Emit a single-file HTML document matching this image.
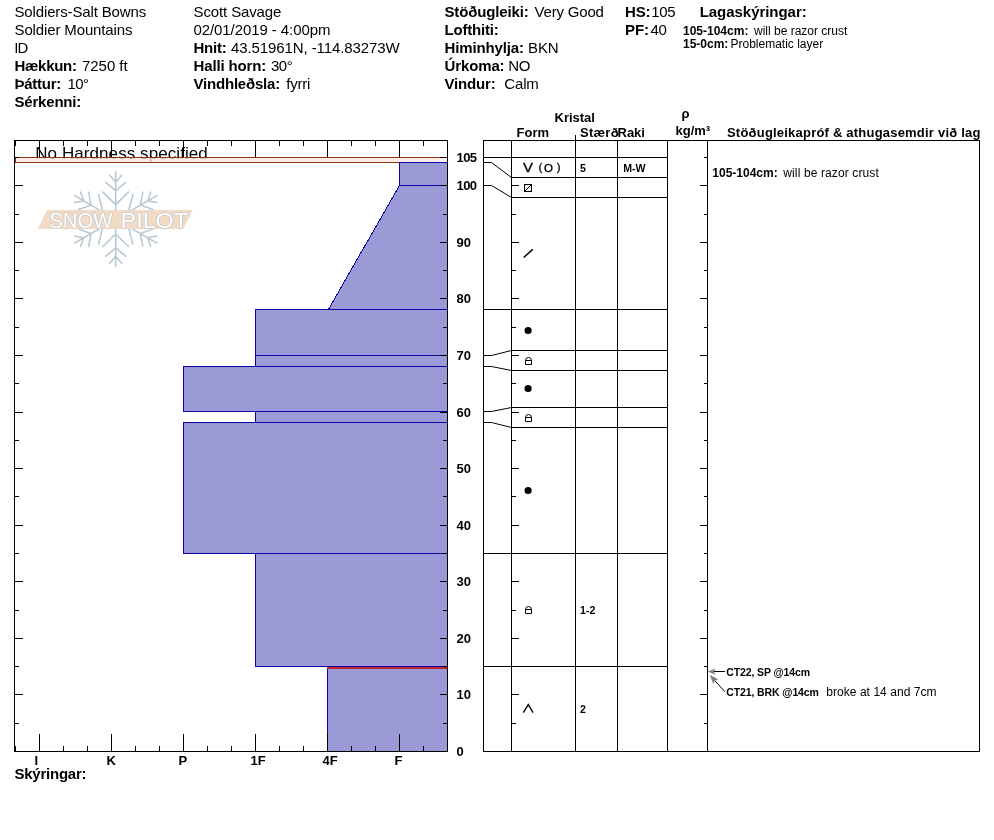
<!DOCTYPE html>
<html lang="is"><head><meta charset="utf-8"><title>Snow Pilot</title>
<style>
html,body{margin:0;padding:0;background:#fff;}
body{width:994px;height:840px;overflow:hidden;}
svg{display:block;}
text{font-family:"Liberation Sans",sans-serif;fill:#000;}
.b{font-weight:bold;}
.ln{stroke:#000;stroke-width:1;fill:none;shape-rendering:crispEdges;}
.aa{stroke:#000;stroke-width:1;fill:none;}
.bar{fill:#9b99d6;stroke:#0a06a4;stroke-width:1;shape-rendering:crispEdges;}
</style></head><body>
<svg width="994" height="840" viewBox="0 0 994 840">
<text x="14.5" y="16.5" font-size="15" textLength="131.7" lengthAdjust="spacing">Soldiers-Salt Bowns</text>
<text x="14.5" y="34.5" font-size="15" textLength="118" lengthAdjust="spacing">Soldier Mountains</text>
<text x="14.2" y="52.5" font-size="15" textLength="14.2" lengthAdjust="spacing">ID</text>
<text x="14.5" y="70.5" font-size="15" class="b" textLength="62.5" lengthAdjust="spacing">Hækkun:</text>
<text x="82" y="70.5" font-size="15" textLength="45.6" lengthAdjust="spacing">7250 ft</text>
<text x="14.5" y="88.5" font-size="15" class="b" textLength="46.8" lengthAdjust="spacing">Þáttur:</text>
<text x="67.5" y="88.5" font-size="15" textLength="21.6" lengthAdjust="spacing">10°</text>
<text x="14.5" y="106.5" font-size="15" class="b" textLength="66.8" lengthAdjust="spacing">Sérkenni:</text>
<text x="193.5" y="16.5" font-size="15" textLength="87.9" lengthAdjust="spacing">Scott Savage</text>
<text x="193.5" y="34.5" font-size="15" textLength="136.9" lengthAdjust="spacing">02/01/2019 - 4:00pm</text>
<text x="193.5" y="52.5" font-size="15" class="b" textLength="33.3" lengthAdjust="spacing">Hnit:</text>
<text x="231" y="52.5" font-size="15" textLength="168.6" lengthAdjust="spacing">43.51961N, -114.83273W</text>
<text x="193.5" y="70.5" font-size="15" class="b" textLength="72.7" lengthAdjust="spacing">Halli horn:</text>
<text x="270.9" y="70.5" font-size="15" textLength="21.8" lengthAdjust="spacing">30°</text>
<text x="193.5" y="88.5" font-size="15" class="b" textLength="86.7" lengthAdjust="spacing">Vindhleðsla:</text>
<text x="286.2" y="88.5" font-size="15" textLength="24.2" lengthAdjust="spacing">fyrri</text>
<text x="444.5" y="16.5" font-size="15" class="b" textLength="84.2" lengthAdjust="spacing">Stöðugleiki:</text>
<text x="534.6" y="16.5" font-size="15" textLength="69.3" lengthAdjust="spacing">Very Good</text>
<text x="444.5" y="34.5" font-size="15" class="b" textLength="54.3" lengthAdjust="spacing">Lofthiti:</text>
<text x="444.5" y="52.5" font-size="15" class="b" textLength="79.4" lengthAdjust="spacing">Himinhylja:</text>
<text x="528.1" y="52.5" font-size="15" textLength="30.5" lengthAdjust="spacing">BKN</text>
<text x="444.5" y="70.5" font-size="15" class="b" textLength="60.1" lengthAdjust="spacing">Úrkoma:</text>
<text x="508.3" y="70.5" font-size="15" textLength="22.2" lengthAdjust="spacing">NO</text>
<text x="444.5" y="88.5" font-size="15" class="b" textLength="51.2" lengthAdjust="spacing">Vindur:</text>
<text x="504.3" y="88.5" font-size="15" textLength="34.5" lengthAdjust="spacing">Calm</text>
<text x="625.1" y="16.5" font-size="15" class="b" textLength="25.4" lengthAdjust="spacing">HS:</text>
<text x="651.3" y="16.5" font-size="15" textLength="24.4" lengthAdjust="spacing">105</text>
<text x="625.1" y="34.5" font-size="15" class="b" textLength="23.9" lengthAdjust="spacing">PF:</text>
<text x="650.6" y="34.5" font-size="15" textLength="16.2" lengthAdjust="spacing">40</text>
<text x="699.7" y="16.5" font-size="15" class="b" textLength="107" lengthAdjust="spacing">Lagaskýringar:</text>
<text x="683" y="34.8" font-size="12" class="b">105-104cm:</text>
<text x="754" y="34.8" font-size="12">will be razor crust</text>
<text x="683" y="47.6" font-size="12" class="b">15-0cm:</text>
<text x="730.5" y="47.6" font-size="12">Problematic layer</text>
<g id="logo">
<g stroke="#b9c7d0" stroke-width="1.55" fill="none" stroke-linecap="round">
<g transform="translate(115.7 219.3) rotate(0)"><path d="M0 -6 V-47.5 M-6 -44 L0 -37 L6 -44 M-10 -37 L0 -28.5 L10 -37 M-12.8 -27.2 L0 -14.7 L12.8 -27.2"/></g>
<g transform="translate(115.7 219.3) rotate(60)"><path d="M0 -6 V-47.5 M-6 -44 L0 -37 L6 -44 M-10 -37 L0 -28.5 L10 -37 M-12.8 -27.2 L0 -14.7 L12.8 -27.2"/></g>
<g transform="translate(115.7 219.3) rotate(120)"><path d="M0 -6 V-47.5 M-6 -44 L0 -37 L6 -44 M-10 -37 L0 -28.5 L10 -37 M-12.8 -27.2 L0 -14.7 L12.8 -27.2"/></g>
<g transform="translate(115.7 219.3) rotate(180)"><path d="M0 -6 V-47.5 M-6 -44 L0 -37 L6 -44 M-10 -37 L0 -28.5 L10 -37 M-12.8 -27.2 L0 -14.7 L12.8 -27.2"/></g>
<g transform="translate(115.7 219.3) rotate(240)"><path d="M0 -6 V-47.5 M-6 -44 L0 -37 L6 -44 M-10 -37 L0 -28.5 L10 -37 M-12.8 -27.2 L0 -14.7 L12.8 -27.2"/></g>
<g transform="translate(115.7 219.3) rotate(300)"><path d="M0 -6 V-47.5 M-6 -44 L0 -37 L6 -44 M-10 -37 L0 -28.5 L10 -37 M-12.8 -27.2 L0 -14.7 L12.8 -27.2"/></g>
</g>
<polygon points="47.1,210 192.8,210 183,229 37.7,229" fill="#f1dac6"/>
<text x="49.2" y="227.6" font-size="22" textLength="63.2" lengthAdjust="spacingAndGlyphs" style="fill:#fff;stroke:#b7c2ca;stroke-width:1.1;paint-order:stroke;">SNOW</text>
<text x="120.6" y="227.6" font-size="22" textLength="67.4" lengthAdjust="spacingAndGlyphs" style="fill:#fff;stroke:#b7c2ca;stroke-width:1.1;paint-order:stroke;">PILOT</text>
</g>
<text x="35.2" y="158.8" font-size="17" textLength="172.6" lengthAdjust="spacing">No Hardness specified</text>
<rect x="15.5" y="157.5" width="432" height="5" fill="rgba(255,232,228,0.75)" stroke="#94300c" stroke-width="1" shape-rendering="crispEdges"/>
<rect class="bar" x="399.5" y="162.5" width="48" height="23"/>
<polygon points="399.5,185.5 447.5,185.5 447.5,309.5 328.4,309.5" fill="#9b99d6" stroke="#0a06a4" stroke-width="1" shape-rendering="crispEdges"/>
<rect class="bar" x="255.5" y="309.5" width="192" height="46"/>
<rect class="bar" x="255.5" y="355.5" width="192" height="11"/>
<rect class="bar" x="183.5" y="366.5" width="264" height="45"/>
<rect class="bar" x="255.5" y="411.5" width="192" height="11"/>
<rect class="bar" x="183.5" y="422.5" width="264" height="131"/>
<rect class="bar" x="255.5" y="553.5" width="192" height="113"/>
<rect class="bar" x="327.5" y="666.5" width="120" height="85"/>
<rect x="327" y="667" width="120" height="2" fill="#c2222a" shape-rendering="crispEdges"/>
<line class="ln" x1="255" y1="666.5" x2="448" y2="666.5" style="stroke:#0a06a4"/>
<rect class="ln" x="14.5" y="140.5" width="433" height="611"/>
<line class="ln" x1="15.5" y1="140" x2="15.5" y2="146"/>
<line class="ln" x1="15.5" y1="746" x2="15.5" y2="752"/>
<line class="ln" x1="39.5" y1="140" x2="39.5" y2="157"/>
<line class="ln" x1="39.5" y1="734" x2="39.5" y2="752"/>
<line class="ln" x1="63.5" y1="140" x2="63.5" y2="146"/>
<line class="ln" x1="63.5" y1="746" x2="63.5" y2="752"/>
<line class="ln" x1="87.5" y1="140" x2="87.5" y2="146"/>
<line class="ln" x1="87.5" y1="746" x2="87.5" y2="752"/>
<line class="ln" x1="111.5" y1="140" x2="111.5" y2="157"/>
<line class="ln" x1="111.5" y1="734" x2="111.5" y2="752"/>
<line class="ln" x1="135.5" y1="140" x2="135.5" y2="146"/>
<line class="ln" x1="135.5" y1="746" x2="135.5" y2="752"/>
<line class="ln" x1="159.5" y1="140" x2="159.5" y2="146"/>
<line class="ln" x1="159.5" y1="746" x2="159.5" y2="752"/>
<line class="ln" x1="183.5" y1="140" x2="183.5" y2="157"/>
<line class="ln" x1="183.5" y1="734" x2="183.5" y2="752"/>
<line class="ln" x1="207.5" y1="140" x2="207.5" y2="146"/>
<line class="ln" x1="207.5" y1="746" x2="207.5" y2="752"/>
<line class="ln" x1="231.5" y1="140" x2="231.5" y2="146"/>
<line class="ln" x1="231.5" y1="746" x2="231.5" y2="752"/>
<line class="ln" x1="255.5" y1="140" x2="255.5" y2="157"/>
<line class="ln" x1="255.5" y1="734" x2="255.5" y2="752"/>
<line class="ln" x1="279.5" y1="140" x2="279.5" y2="146"/>
<line class="ln" x1="279.5" y1="746" x2="279.5" y2="752"/>
<line class="ln" x1="303.5" y1="140" x2="303.5" y2="146"/>
<line class="ln" x1="303.5" y1="746" x2="303.5" y2="752"/>
<line class="ln" x1="327.5" y1="140" x2="327.5" y2="157"/>
<line class="ln" x1="327.5" y1="734" x2="327.5" y2="752"/>
<line class="ln" x1="351.5" y1="140" x2="351.5" y2="146"/>
<line class="ln" x1="351.5" y1="746" x2="351.5" y2="752"/>
<line class="ln" x1="375.5" y1="140" x2="375.5" y2="146"/>
<line class="ln" x1="375.5" y1="746" x2="375.5" y2="752"/>
<line class="ln" x1="399.5" y1="140" x2="399.5" y2="157"/>
<line class="ln" x1="399.5" y1="734" x2="399.5" y2="752"/>
<line class="ln" x1="423.5" y1="140" x2="423.5" y2="146"/>
<line class="ln" x1="423.5" y1="746" x2="423.5" y2="752"/>
<line class="ln" x1="14" y1="751.5" x2="23" y2="751.5"/>
<line class="ln" x1="440" y1="751.5" x2="448" y2="751.5"/>
<line class="ln" x1="14" y1="723.5" x2="19" y2="723.5"/>
<line class="ln" x1="443" y1="723.5" x2="448" y2="723.5"/>
<line class="ln" x1="14" y1="694.5" x2="23" y2="694.5"/>
<line class="ln" x1="440" y1="694.5" x2="448" y2="694.5"/>
<line class="ln" x1="14" y1="666.5" x2="19" y2="666.5"/>
<line class="ln" x1="443" y1="666.5" x2="448" y2="666.5"/>
<line class="ln" x1="14" y1="638.5" x2="23" y2="638.5"/>
<line class="ln" x1="440" y1="638.5" x2="448" y2="638.5"/>
<line class="ln" x1="14" y1="610.5" x2="19" y2="610.5"/>
<line class="ln" x1="443" y1="610.5" x2="448" y2="610.5"/>
<line class="ln" x1="14" y1="581.5" x2="23" y2="581.5"/>
<line class="ln" x1="440" y1="581.5" x2="448" y2="581.5"/>
<line class="ln" x1="14" y1="553.5" x2="19" y2="553.5"/>
<line class="ln" x1="443" y1="553.5" x2="448" y2="553.5"/>
<line class="ln" x1="14" y1="525.5" x2="23" y2="525.5"/>
<line class="ln" x1="440" y1="525.5" x2="448" y2="525.5"/>
<line class="ln" x1="14" y1="496.5" x2="19" y2="496.5"/>
<line class="ln" x1="443" y1="496.5" x2="448" y2="496.5"/>
<line class="ln" x1="14" y1="468.5" x2="23" y2="468.5"/>
<line class="ln" x1="440" y1="468.5" x2="448" y2="468.5"/>
<line class="ln" x1="14" y1="440.5" x2="19" y2="440.5"/>
<line class="ln" x1="443" y1="440.5" x2="448" y2="440.5"/>
<line class="ln" x1="14" y1="412.5" x2="23" y2="412.5"/>
<line class="ln" x1="440" y1="412.5" x2="448" y2="412.5"/>
<line class="ln" x1="14" y1="383.5" x2="19" y2="383.5"/>
<line class="ln" x1="443" y1="383.5" x2="448" y2="383.5"/>
<line class="ln" x1="14" y1="355.5" x2="23" y2="355.5"/>
<line class="ln" x1="440" y1="355.5" x2="448" y2="355.5"/>
<line class="ln" x1="14" y1="327.5" x2="19" y2="327.5"/>
<line class="ln" x1="443" y1="327.5" x2="448" y2="327.5"/>
<line class="ln" x1="14" y1="298.5" x2="23" y2="298.5"/>
<line class="ln" x1="440" y1="298.5" x2="448" y2="298.5"/>
<line class="ln" x1="14" y1="270.5" x2="19" y2="270.5"/>
<line class="ln" x1="443" y1="270.5" x2="448" y2="270.5"/>
<line class="ln" x1="14" y1="242.5" x2="23" y2="242.5"/>
<line class="ln" x1="440" y1="242.5" x2="448" y2="242.5"/>
<line class="ln" x1="14" y1="214.5" x2="19" y2="214.5"/>
<line class="ln" x1="443" y1="214.5" x2="448" y2="214.5"/>
<line class="ln" x1="14" y1="185.5" x2="23" y2="185.5"/>
<line class="ln" x1="440" y1="185.5" x2="448" y2="185.5"/>
<line class="ln" x1="14" y1="157.5" x2="19" y2="157.5"/>
<line class="ln" x1="443" y1="157.5" x2="448" y2="157.5"/>
<line class="ln" x1="440" y1="157.5" x2="448" y2="157.5"/>
<text x="456.5" y="161.7" font-size="13" class="b" textLength="20.6" lengthAdjust="spacing">105</text>
<text x="456.5" y="189.7" font-size="13" class="b" textLength="20.6" lengthAdjust="spacing">100</text>
<text x="456.5" y="246.7" font-size="13" class="b">90</text>
<text x="456.5" y="302.7" font-size="13" class="b">80</text>
<text x="456.5" y="359.7" font-size="13" class="b">70</text>
<text x="456.5" y="416.7" font-size="13" class="b">60</text>
<text x="456.5" y="472.7" font-size="13" class="b">50</text>
<text x="456.5" y="529.7" font-size="13" class="b">40</text>
<text x="456.5" y="585.7" font-size="13" class="b">30</text>
<text x="456.5" y="642.7" font-size="13" class="b">20</text>
<text x="456.5" y="698.7" font-size="13" class="b">10</text>
<text x="456.5" y="755.7" font-size="13" class="b">0</text>
<text x="34.5" y="765" font-size="13" class="b">I</text>
<text x="106.5" y="765" font-size="13" class="b">K</text>
<text x="178.5" y="765" font-size="13" class="b">P</text>
<text x="250.5" y="765" font-size="13" class="b">1F</text>
<text x="322.5" y="765" font-size="13" class="b">4F</text>
<text x="394.5" y="765" font-size="13" class="b">F</text>
<text x="14.5" y="779" font-size="15" class="b" textLength="72" lengthAdjust="spacing">Skýringar:</text>
<line class="ln" x1="483.5" y1="140" x2="483.5" y2="752"/>
<line class="ln" x1="511.5" y1="140" x2="511.5" y2="752"/>
<line class="ln" x1="617.5" y1="140" x2="617.5" y2="752"/>
<line class="ln" x1="667.5" y1="140" x2="667.5" y2="752"/>
<line class="ln" x1="707.5" y1="140" x2="707.5" y2="752"/>
<line class="ln" x1="979.5" y1="140" x2="979.5" y2="752"/>
<line class="ln" x1="575.5" y1="135" x2="575.5" y2="752"/>
<line class="ln" x1="483" y1="140.5" x2="980" y2="140.5"/>
<line class="ln" x1="483" y1="751.5" x2="980" y2="751.5"/>
<line class="ln" x1="483" y1="157.5" x2="668" y2="157.5"/>
<polyline class="aa" points="483.5,162.5 491.5,162.5 511.5,177.5"/>
<line class="ln" x1="511" y1="177.5" x2="668" y2="177.5"/>
<polyline class="aa" points="483.5,185.5 491.5,185.5 511.5,197.5"/>
<line class="ln" x1="511" y1="197.5" x2="668" y2="197.5"/>
<line class="ln" x1="483" y1="309.5" x2="668" y2="309.5"/>
<polyline class="aa" points="483.5,355.5 491.5,355.5 511.5,350.5"/>
<line class="ln" x1="511" y1="350.5" x2="668" y2="350.5"/>
<polyline class="aa" points="483.5,366.5 491.5,366.5 511.5,370.5"/>
<line class="ln" x1="511" y1="370.5" x2="668" y2="370.5"/>
<polyline class="aa" points="483.5,411.5 491.5,411.5 511.5,407.5"/>
<line class="ln" x1="511" y1="407.5" x2="668" y2="407.5"/>
<polyline class="aa" points="483.5,422.5 491.5,422.5 511.5,427.5"/>
<line class="ln" x1="511" y1="427.5" x2="668" y2="427.5"/>
<line class="ln" x1="483" y1="553.5" x2="668" y2="553.5"/>
<line class="ln" x1="483" y1="666.5" x2="668" y2="666.5"/>
<line class="ln" x1="511" y1="723.5" x2="516" y2="723.5"/>
<line class="ln" x1="704" y1="723.5" x2="708" y2="723.5"/>
<line class="ln" x1="511" y1="694.5" x2="519" y2="694.5"/>
<line class="ln" x1="700" y1="694.5" x2="708" y2="694.5"/>
<line class="ln" x1="511" y1="666.5" x2="516" y2="666.5"/>
<line class="ln" x1="704" y1="666.5" x2="708" y2="666.5"/>
<line class="ln" x1="511" y1="638.5" x2="519" y2="638.5"/>
<line class="ln" x1="700" y1="638.5" x2="708" y2="638.5"/>
<line class="ln" x1="511" y1="610.5" x2="516" y2="610.5"/>
<line class="ln" x1="704" y1="610.5" x2="708" y2="610.5"/>
<line class="ln" x1="511" y1="581.5" x2="519" y2="581.5"/>
<line class="ln" x1="700" y1="581.5" x2="708" y2="581.5"/>
<line class="ln" x1="511" y1="553.5" x2="516" y2="553.5"/>
<line class="ln" x1="704" y1="553.5" x2="708" y2="553.5"/>
<line class="ln" x1="511" y1="525.5" x2="519" y2="525.5"/>
<line class="ln" x1="700" y1="525.5" x2="708" y2="525.5"/>
<line class="ln" x1="511" y1="496.5" x2="516" y2="496.5"/>
<line class="ln" x1="704" y1="496.5" x2="708" y2="496.5"/>
<line class="ln" x1="511" y1="468.5" x2="519" y2="468.5"/>
<line class="ln" x1="700" y1="468.5" x2="708" y2="468.5"/>
<line class="ln" x1="511" y1="440.5" x2="516" y2="440.5"/>
<line class="ln" x1="704" y1="440.5" x2="708" y2="440.5"/>
<line class="ln" x1="511" y1="412.5" x2="519" y2="412.5"/>
<line class="ln" x1="700" y1="412.5" x2="708" y2="412.5"/>
<line class="ln" x1="511" y1="383.5" x2="516" y2="383.5"/>
<line class="ln" x1="704" y1="383.5" x2="708" y2="383.5"/>
<line class="ln" x1="511" y1="355.5" x2="519" y2="355.5"/>
<line class="ln" x1="700" y1="355.5" x2="708" y2="355.5"/>
<line class="ln" x1="511" y1="327.5" x2="516" y2="327.5"/>
<line class="ln" x1="704" y1="327.5" x2="708" y2="327.5"/>
<line class="ln" x1="511" y1="298.5" x2="519" y2="298.5"/>
<line class="ln" x1="700" y1="298.5" x2="708" y2="298.5"/>
<line class="ln" x1="511" y1="270.5" x2="516" y2="270.5"/>
<line class="ln" x1="704" y1="270.5" x2="708" y2="270.5"/>
<line class="ln" x1="511" y1="242.5" x2="519" y2="242.5"/>
<line class="ln" x1="700" y1="242.5" x2="708" y2="242.5"/>
<line class="ln" x1="511" y1="214.5" x2="516" y2="214.5"/>
<line class="ln" x1="704" y1="214.5" x2="708" y2="214.5"/>
<line class="ln" x1="511" y1="185.5" x2="519" y2="185.5"/>
<line class="ln" x1="700" y1="185.5" x2="708" y2="185.5"/>
<line class="ln" x1="511" y1="157.5" x2="516" y2="157.5"/>
<line class="ln" x1="704" y1="157.5" x2="708" y2="157.5"/>
<text x="554.5" y="121.7" font-size="13" class="b">Kristal</text>
<text x="516.5" y="136.7" font-size="13" class="b">Form</text>
<text x="580" y="136.7" font-size="13" class="b" textLength="38.6" lengthAdjust="spacing">Stærð</text>
<text x="617.5" y="136.7" font-size="13" class="b">Raki</text>
<text x="681.5" y="118.3" font-size="13" class="b">ρ</text>
<text x="675.5" y="134.6" font-size="13" class="b">kg/m³</text>
<text x="727" y="137" font-size="13" class="b" textLength="253.4" lengthAdjust="spacing">Stöðugleikapróf &amp; athugasemdir við lag</text>
<g class="aa" stroke-width="1">
</g>
<text x="523" y="172.3" font-size="13" textLength="10" lengthAdjust="spacingAndGlyphs" style="stroke:#000;stroke-width:0.3">V</text>
<text x="538.5" y="171.3" font-size="11.5" style="stroke:#000;stroke-width:0.3">(</text>
<text x="544.1" y="172" font-size="11.5" style="stroke:#000;stroke-width:0.3">O</text>
<text x="556.8" y="171.3" font-size="11.5" style="stroke:#000;stroke-width:0.3">)</text>
<rect class="ln" x="524.5" y="184.5" width="7" height="7"/><line class="aa" x1="524.5" y1="191.5" x2="531.5" y2="184.5"/>
<line class="aa" x1="523.7" y1="257.5" x2="532.7" y2="249.4" style="stroke-width:1.45"/>
<circle cx="528.1" cy="330.5" r="3.6" fill="#000"/>
<circle cx="528.1" cy="388.5" r="3.6" fill="#000"/>
<circle cx="528.1" cy="490.5" r="3.6" fill="#000"/>
<path class="aa" d="M525.5 364.5 V360.5 A3 3 0 0 1 531.5 360.5 V364.5 Z M525.5 360.5 H531.5"/>
<path class="aa" d="M525.5 421.5 V417.5 A3 3 0 0 1 531.5 417.5 V421.5 Z M525.5 417.5 H531.5"/>
<path class="aa" d="M525.5 613.5 V609.5 A3 3 0 0 1 531.5 609.5 V613.5 Z M525.5 609.5 H531.5"/>
<polyline class="aa" style="stroke-width:1.35" points="523.3,712.6 528.3,704.6 533,712.6"/>
<text x="580.0" y="171.7" font-size="10.6" class="b">5</text>
<text x="623.2" y="171.7" font-size="10.6" class="b">M-W</text>
<text x="580.0" y="613.7" font-size="10.6" class="b">1-2</text>
<text x="580.0" y="712.7" font-size="10.6" class="b">2</text>
<text x="712.3" y="176.6" font-size="12" class="b">105-104cm:</text>
<text x="783.3" y="176.6" font-size="12" textLength="95.5" lengthAdjust="spacing">will be razor crust</text>
<line class="aa" x1="725" y1="671.5" x2="713.8" y2="671.5"/>
<polygon points="708.2,671.5 715.2,668.7 713.6,671.5 715.2,674.4" fill="#808080" stroke="#808080" stroke-width="0.4"/>
<line class="aa" x1="724.8" y1="691.7" x2="714.6" y2="680.4"/>
<polygon points="710,675.2 717.8,679.3 714.6,680.4 713.3,683.6" fill="#808080" stroke="#808080" stroke-width="0.4"/>
<text x="726.3" y="675.8" font-size="10.5" class="b" textLength="83.7" lengthAdjust="spacing">CT22, SP @14cm</text>
<text x="726.3" y="695.9" font-size="10.5" class="b" textLength="92.6" lengthAdjust="spacing">CT21, BRK @14cm</text>
<text x="826.2" y="695.9" font-size="12" textLength="110.4" lengthAdjust="spacing">broke at 14 and 7cm</text>
</svg>
</body></html>
